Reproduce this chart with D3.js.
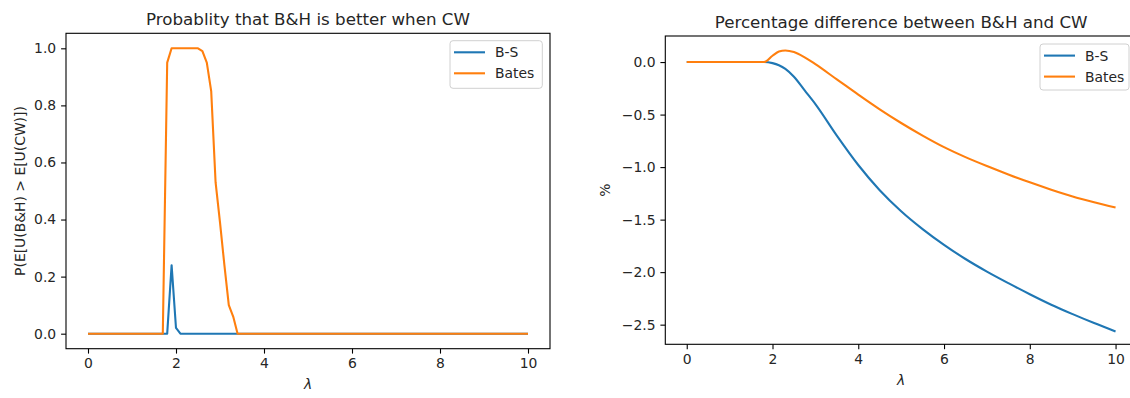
<!DOCTYPE html>
<html>
<head>
<meta charset="utf-8">
<script src="https://cdn.jsdelivr.net/npm/d3@7"></script>
<style>
  html, body { margin: 0; padding: 0; background: #fff; }
  svg { display: block; font-family: "DejaVu Sans", sans-serif; }
</style>
</head>
<body>
<svg id="fig" width="1130" height="398"></svg>
<script>
// λ grid for the probability panel (step 0.1 from 0 to 10)
const lambdaProb = d3.range(0, 101).map(i => +(i / 10).toFixed(1));

// Non-zero stretches of the probability series; every other grid point is 0
const bsProbPeaks = { 1.9: 0.24, 2.0: 0.02 };
const batesProbPeaks = {
  1.8: 0.95, 1.9: 1.0, 2.0: 1.0, 2.1: 1.0, 2.2: 1.0, 2.3: 1.0, 2.4: 1.0, 2.5: 1.0,
  2.6: 0.99, 2.7: 0.95, 2.8: 0.85, 2.9: 0.53, 3.0: 0.39, 3.1: 0.24, 3.2: 0.10, 3.3: 0.06
};
const bsProb = lambdaProb.map(l => bsProbPeaks[l] ?? 0);
const batesProb = lambdaProb.map(l => batesProbPeaks[l] ?? 0);

// Percentage difference panel
const lambdaDiff = [0, 0.5, 1, 1.5, 1.8, 2.0, 2.15, 2.3, 2.5, 2.75, 3, 3.5, 4, 4.5, 5, 5.5, 6, 6.5, 7, 7.5, 8, 8.5, 9, 9.5, 10];
const bsDiff =    [0, 0, 0, 0, 0, -0.01, -0.03, -0.065, -0.14, -0.27, -0.40, -0.70, -0.98, -1.22, -1.42, -1.59, -1.74, -1.875, -1.995, -2.105, -2.21, -2.31, -2.40, -2.485, -2.565];
const batesDiff = [0, 0, 0, 0, 0, 0.06, 0.10, 0.11, 0.095, 0.045, -0.02, -0.165, -0.31, -0.45, -0.58, -0.70, -0.81, -0.905, -0.99, -1.07, -1.145, -1.215, -1.28, -1.335, -1.385];

const xTicks = [0, 2, 4, 6, 8, 10];
const probTicks = [0.0, 0.2, 0.4, 0.6, 0.8, 1.0];
const diffTicks = [0.0, -0.5, -1.0, -1.5, -2.0, -2.5];
const seriesNames = ["B-S", "Bates"];
const seriesColors = ["#1f77b4", "#ff7f0e"];

const svg = d3.select("#fig");
const FS = 13.9;

function panel(opt) {
  const { left, right, top, bottom } = opt.box;
  const x = d3.scaleLinear().domain([-0.5, 10.5]).range([left, right]);
  const y = d3.scaleLinear().domain(opt.yDomain).range([bottom, top]);
  const g = svg.append("g");

  const clipId = "clip" + opt.id;
  svg.append("clipPath").attr("id", clipId)
    .append("rect").attr("x", left).attr("y", top)
    .attr("width", right - left).attr("height", bottom - top);

  // data lines
  const line = d3.line().x(d => x(d[0])).y(d => y(d[1])).curve(opt.curve);
  opt.series.forEach((s, i) => {
    g.append("path")
      .datum(opt.xs.map((v, j) => [v, s[j]]))
      .attr("clip-path", `url(#${clipId})`)
      .attr("fill", "none")
      .attr("stroke", seriesColors[i])
      .attr("stroke-width", 2.1)
      .attr("stroke-linejoin", "round")
      .attr("stroke-linecap", "butt")
      .attr("d", line);
  });

  // axes
  const fmt = v => d3.format(".1f")(v).replace("-", "\u2212");
  const xAxis = d3.axisBottom(x).tickValues(xTicks).tickSize(4.9).tickPadding(4.9).tickFormat(d3.format("d"));
  const yAxis = d3.axisLeft(y).tickValues(opt.yTicks).tickSize(4.9).tickPadding(4.9).tickFormat(fmt);
  const gx = g.append("g").attr("transform", `translate(0,${bottom})`).call(xAxis);
  const gy = g.append("g").attr("transform", `translate(${left},0)`).call(yAxis);
  [gx, gy].forEach(a => {
    a.select(".domain").remove();
    a.selectAll("line").attr("stroke", "#000").attr("stroke-width", 1.1);
    a.selectAll("text").attr("font-size", FS).attr("fill", "#262626")
      .attr("font-family", "DejaVu Sans, sans-serif");
  });

  // frame
  g.append("rect").attr("x", left).attr("y", top)
    .attr("width", right - left).attr("height", bottom - top)
    .attr("fill", "none").attr("stroke", "#000").attr("stroke-width", 1.1);

  // title
  g.append("text").attr("x", (left + right) / 2).attr("y", top - 8.3)
    .attr("text-anchor", "middle").attr("font-size", 16.7).attr("fill", "#262626")
    .text(opt.title);

  // x label
  g.append("text").attr("x", (left + right) / 2).attr("y", opt.xLabelY)
    .attr("text-anchor", "middle").attr("font-size", FS).attr("font-style", "italic")
    .attr("fill", "#262626").text("λ");

  // y label
  g.append("text")
    .attr("transform", `translate(${opt.yLabelX},${(top + bottom) / 2}) rotate(-90)`)
    .attr("text-anchor", "middle").attr("dominant-baseline", "central")
    .attr("font-size", FS).attr("fill", "#262626").text(opt.yLabel);

  // legend
  const L = opt.legend;
  g.append("rect").attr("x", L.x).attr("y", L.y).attr("width", L.w).attr("height", L.h)
    .attr("rx", 3).attr("fill", "#fff").attr("fill-opacity", 0.8)
    .attr("stroke", "#d0d0d0").attr("stroke-width", 1);
  seriesNames.forEach((name, i) => {
    const cy = L.y + 11.6 + i * 21;
    g.append("line").attr("x1", L.x + 4).attr("x2", L.x + 35)
      .attr("y1", cy).attr("y2", cy)
      .attr("stroke", seriesColors[i]).attr("stroke-width", 2.1);
    g.append("text").attr("x", L.x + 45).attr("y", cy + 5)
      .attr("font-size", FS).attr("fill", "#262626").text(name);
  });
}

panel({
  id: 1,
  box: { left: 66, right: 550, top: 33.3, bottom: 348.7 },
  yDomain: [-0.0526, 1.0526],
  yTicks: probTicks,
  xs: lambdaProb,
  series: [bsProb, batesProb],
  curve: d3.curveLinear,
  title: "Probablity that B&H is better when CW",
  yLabel: "P(E[U(B&H) > E[U(CW)])",
  yLabelX: 20,
  xLabelY: 389,
  legend: { x: 450, y: 40.7, w: 92.3, h: 47.6 }
});

panel({
  id: 2,
  box: { left: 665.3, right: 1137, top: 36, bottom: 344.3 },
  yDomain: [-2.687, 0.2481],
  yTicks: diffTicks,
  xs: lambdaDiff,
  series: [bsDiff, batesDiff],
  curve: d3.curveMonotoneX,
  title: "Percentage difference between B&H and CW",
  yLabel: "%",
  yLabelX: 605,
  xLabelY: 385,
  legend: { x: 1040, y: 44, w: 89, h: 46 }
});
</script>
</body>
</html>
